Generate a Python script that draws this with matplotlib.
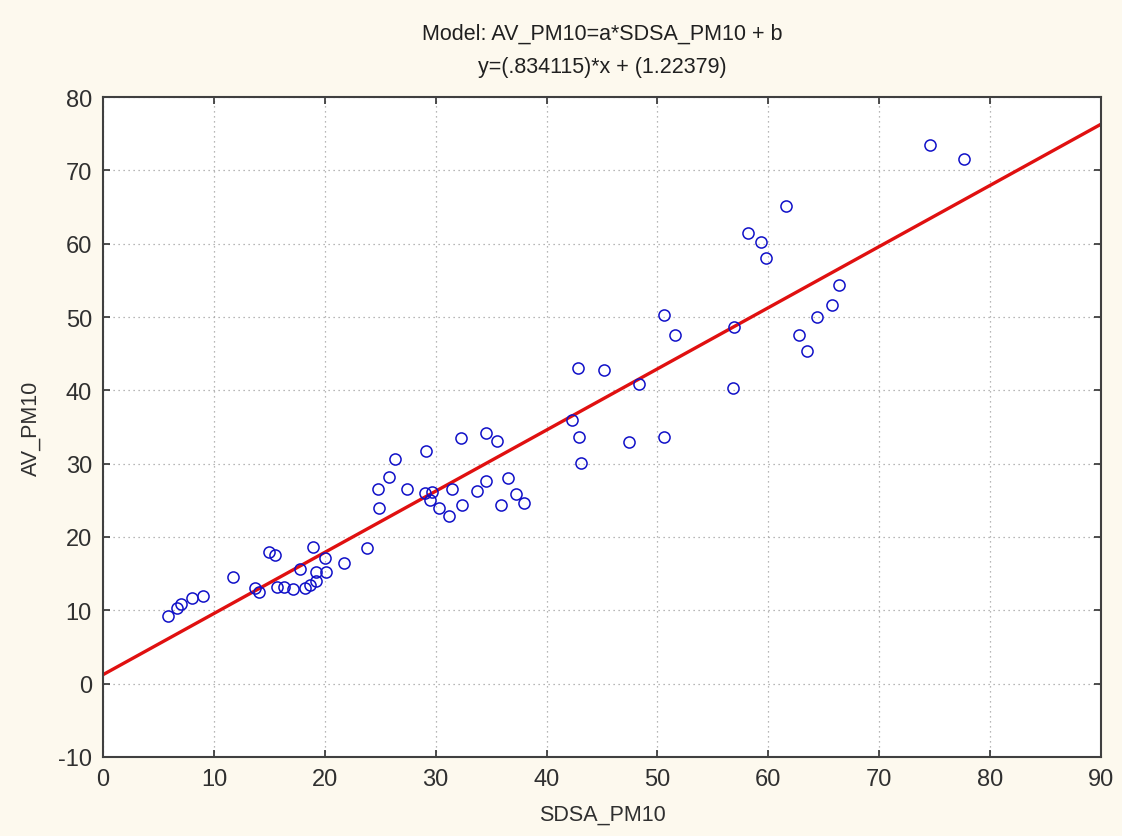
import numpy as np
import matplotlib.pyplot as plt

plt.rcParams.update({
    'font.family': 'Liberation Sans',
    'xtick.direction': 'in',
    'ytick.direction': 'in',
    'axes.unicode_minus': False,
})

# observaciones
sdsa_pm10 = [5.86, 6.7, 7.0, 8.0, 9.0, 11.75, 13.7, 14.1, 15.0, 15.5, 15.65, 16.3,
             17.15, 17.8, 18.2, 18.65, 18.95, 19.2, 19.25, 20.0, 20.15, 21.7, 23.8,
             24.9, 24.8, 25.8, 26.3, 27.4, 29.1, 29.0, 29.7, 29.5, 30.3, 31.2, 31.5,
             32.25, 32.4, 33.75, 34.5, 34.5, 35.55, 35.85, 36.5, 37.2, 37.95,
             42.85, 45.2, 48.3, 42.3, 42.95, 43.1, 47.4, 50.6, 50.6, 51.6,
             61.6, 58.2, 59.3, 59.75, 56.9, 56.8, 66.4, 65.7, 64.35, 62.75, 63.5,
             74.55, 77.6]
av_pm10 = [9.2, 10.3, 10.9, 11.7, 11.9, 14.6, 13.1, 12.5, 17.9, 17.5, 13.2, 13.2,
           12.9, 15.6, 13.0, 13.4, 18.7, 15.2, 14.0, 17.1, 15.2, 16.5, 18.5,
           23.9, 26.6, 28.2, 30.6, 26.5, 31.7, 26.0, 26.2, 25.0, 24.0, 22.8, 26.5,
           33.5, 24.4, 26.3, 27.7, 34.2, 33.1, 24.4, 28.0, 25.9, 24.6,
           43.0, 42.8, 40.8, 36.0, 33.7, 30.1, 33.0, 33.7, 50.3, 47.6,
           65.2, 61.4, 60.2, 58.0, 48.6, 40.3, 54.4, 51.6, 50.0, 47.6, 45.3,
           73.4, 71.5]

a = 0.834115
b = 1.22379

fig = plt.figure(figsize=(11.22, 8.37), dpi=100, facecolor='#fdf9ee')
ax = fig.add_axes([0.0918, 0.0944, 0.8895, 0.7885])
ax.set_facecolor('white')

ax.plot(sdsa_pm10, av_pm10, linestyle='none', marker='o', markersize=8,
        markerfacecolor='none', markeredgecolor='#1010c8', markeredgewidth=1.1, zorder=3)

xl = np.linspace(0, 90, 200)
ax.plot(xl, a * xl + b, color='#e01010', linewidth=2.4, zorder=2)

ax.set_xlim(0, 90)
ax.set_ylim(-10, 80)
ax.set_xticks(np.arange(0, 91, 10))
ax.set_yticks(np.arange(-10, 81, 10))
ax.grid(True, linestyle=(0, (1, 3)), color='#a0a0a0', linewidth=0.9)
ax.set_axisbelow(True)
ax.tick_params(axis='both', which='major', labelsize=17, length=5, width=1.2,
               top=True, right=True, colors='#303030', pad=8)
for s in ax.spines.values():
    s.set_linewidth(1.5)
    s.set_color('#404040')

ax.set_xlabel('SDSA_PM10', fontsize=15.5, color='#303030', labelpad=10)
ax.set_ylabel('AV_PM10', fontsize=15.5, color='#303030', labelpad=12)
ax.set_title('Model: AV_PM10=a*SDSA_PM10 + b\ny=(.834115)*x + (1.22379)',
             fontsize=15.5, color='#202020', pad=18, linespacing=1.75)

fig.savefig('out.png', dpi=100, facecolor=fig.get_facecolor())
